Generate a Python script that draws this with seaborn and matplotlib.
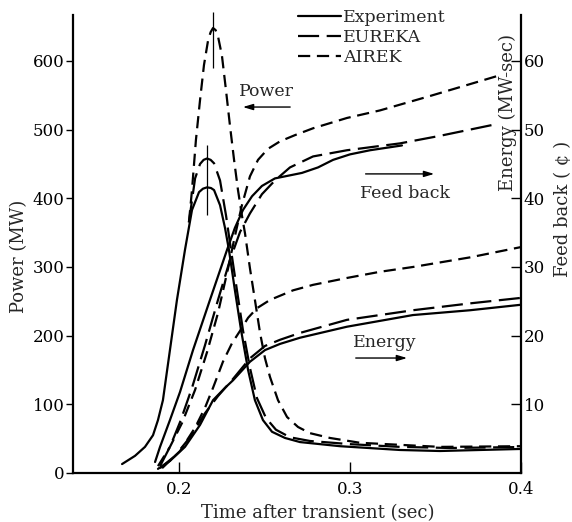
import numpy as np
import pandas as pd
import matplotlib
matplotlib.use("Agg")
import matplotlib.pyplot as plt
import seaborn as sns
from matplotlib.lines import Line2D

sns.set_theme(style="ticks")
plt.rcParams['font.family'] = ['DejaVu Serif']
plt.rcParams['axes.edgecolor'] = 'black'
plt.rcParams['xtick.color'] = 'black'
plt.rcParams['ytick.color'] = 'black'

# ---------------- data ----------------
models = ["Experiment", "EUREKA", "AIREK"]

# Power (MW), left axis
t_pow_exp = [0.1667, 0.1743, 0.1801, 0.1848, 0.1877, 0.1906, 0.1947, 0.1988, 0.2035, 0.2076,
             0.2117, 0.2140, 0.2164, 0.2187, 0.2205, 0.2240, 0.2269, 0.2292, 0.2327, 0.2363,
             0.2404, 0.2444, 0.2491, 0.2544, 0.2620, 0.2708, 0.2942, 0.3292, 0.3526, 0.3760,
             0.4000]
p_pow_exp = [13, 25, 38, 55, 77, 106, 179, 252, 325, 383,
             409, 414, 416, 415, 412, 390, 357, 325, 266, 208,
             150, 106, 77, 60, 51, 45, 39, 33.5, 32, 33.5,
             35]

t_pow_eur = [0.2058, 0.2094, 0.2123, 0.2144, 0.2164, 0.2185, 0.2205, 0.2240, 0.2275, 0.2304,
             0.2339, 0.2374, 0.2415, 0.2456, 0.2509, 0.2567, 0.2649, 0.2766, 0.3000, 0.3292,
             0.3585, 0.4000]
p_pow_eur = [365, 429, 450, 456, 458, 456, 451, 426, 375, 325,
             266, 208, 153, 109, 80, 63, 52, 46.6, 42, 38,
             36.4, 37.8]

t_pow_air = [0.2058, 0.2076, 0.2099, 0.2123, 0.2146, 0.2170, 0.2185, 0.2199, 0.2214, 0.2228,
             0.2251, 0.2275, 0.2298, 0.2322, 0.2345, 0.2368, 0.2386, 0.2415, 0.2444, 0.2474,
             0.2503, 0.2532, 0.2579, 0.2632, 0.2696, 0.2766, 0.2883, 0.3058, 0.3292, 0.3526,
             0.4000]
p_pow_air = [365, 412, 485, 543, 594, 630, 642, 648, 645, 636,
             608, 557, 506, 456, 412, 375, 349, 298, 252, 204,
             167, 140, 106, 81.5, 67, 58, 51, 44, 41, 38,
             39]

# Feed back (cent), right axis
t_fb_exp = [0.1860, 0.1889, 0.1947, 0.2006, 0.2082, 0.2181, 0.2281, 0.2327, 0.2374, 0.2427,
            0.2485, 0.2561, 0.2620, 0.2719, 0.2813, 0.2901, 0.3000, 0.3117, 0.3304]
v_fb_exp = [1.6, 3.8, 7.7, 11.8, 17.9, 25.2, 32.5, 35.7, 38.3, 40.3,
            41.8, 42.9, 43.2, 43.7, 44.5, 45.6, 46.4, 47.0, 47.7]

t_fb_eur = [0.1889, 0.1947, 0.2006, 0.2076, 0.2152, 0.2228, 0.2298, 0.2357, 0.2415, 0.2485,
            0.2561, 0.2649, 0.2784, 0.2982, 0.3292, 0.3526, 0.3836]
v_fb_eur = [1.0, 3.8, 7.4, 12.4, 18.6, 25.2, 31.0, 35.1, 37.8, 40.6,
            42.6, 44.5, 46.1, 47.0, 48.0, 49.1, 50.7]

t_fb_air = [0.1877, 0.1947, 0.2018, 0.2094, 0.2164, 0.2228, 0.2287, 0.2327, 0.2368, 0.2415,
            0.2462, 0.2520, 0.2591, 0.2678, 0.2784, 0.2982, 0.3175, 0.3468, 0.3860]
v_fb_air = [1.0, 3.8, 7.3, 12.1, 17.6, 23.3, 29.8, 34.5, 39.0, 43.2,
            45.6, 47.2, 48.3, 49.2, 50.2, 51.7, 52.8, 54.9, 57.8]

# Energy (MW-sec), right axis
t_en_exp = [0.1877, 0.1947, 0.2035, 0.2123, 0.2199, 0.2269, 0.2316, 0.2415, 0.2503, 0.2591,
            0.2708, 0.2982, 0.3368, 0.3702, 0.4000]
v_en_exp = [0.6, 1.75, 3.8, 7.0, 10.6, 12.4, 13.5, 16.2, 17.9, 18.8,
            19.7, 21.3, 23.0, 23.7, 24.5]

t_en_eur = [0.1889, 0.1977, 0.2064, 0.2152, 0.2228, 0.2316, 0.2415, 0.2503, 0.2591, 0.2708,
            0.2982, 0.3368, 0.3702, 0.4000]
v_en_eur = [0.7, 2.5, 5.2, 8.7, 11.2, 13.7, 16.7, 18.5, 19.4, 20.4,
            22.3, 23.7, 24.7, 25.5]

t_en_air = [0.1901, 0.2006, 0.2094, 0.2152, 0.2199, 0.2257, 0.2310, 0.2357, 0.2404, 0.2456,
            0.2532, 0.2667, 0.2784, 0.2982, 0.3175, 0.3368, 0.3702, 0.4000]
v_en_air = [0.7, 3.2, 6.6, 9.5, 12.4, 16.2, 18.9, 20.7, 22.6, 24.0,
            25.2, 26.6, 27.4, 28.4, 29.3, 30.0, 31.4, 32.9]

# peak-time markers (thin vertical bars), power units
peak_t = [0.2199, 0.2164]
peak_lo = [590, 375]
peak_hi = [671, 478]

x_ticks = [0.2, 0.3, 0.4]
power_ticks = [0, 100, 200, 300, 400, 500, 600]
energy_ticks = [10, 20, 30, 40, 50, 60]

# ---------------- styles ----------------
LW = 1.6
styles = {"Experiment": "-", "EUREKA": (0, (9.5, 3.4)), "AIREK": (0, (5.5, 3.0))}

fig = plt.figure(figsize=(5.72, 5.22), dpi=100)
ax = fig.add_axes([0.1276, 0.0939, 0.7832, 0.8774])
ax2 = ax.twinx()

def draw(a, t, v, model):
    df = pd.DataFrame({"t": t, "v": v})
    sns.lineplot(data=df, x="t", y="v", ax=a, color="black", linewidth=LW,
                 linestyle=styles[model], sort=False, estimator=None, legend=False)

draw(ax, t_pow_exp, p_pow_exp, "Experiment")
draw(ax, t_pow_eur, p_pow_eur, "EUREKA")
draw(ax, t_pow_air, p_pow_air, "AIREK")

draw(ax2, t_fb_exp, v_fb_exp, "Experiment")
draw(ax2, t_fb_eur, v_fb_eur, "EUREKA")
draw(ax2, t_fb_air, v_fb_air, "AIREK")
draw(ax2, t_en_exp, v_en_exp, "Experiment")
draw(ax2, t_en_eur, v_en_eur, "EUREKA")
draw(ax2, t_en_air, v_en_air, "AIREK")

ax.vlines(peak_t, peak_lo, peak_hi, colors="black", linewidth=0.9, clip_on=False)

# ---------------- axes ----------------
ax.set_xlim(0.138, 0.4)
ax.set_ylim(0, 667)
ax2.set_ylim(0, 66.7)

for a in (ax, ax2):
    a.spines["top"].set_visible(False)
    for s in ("left", "right", "bottom"):
        a.spines[s].set_linewidth(1.6)
ax.spines["right"].set_visible(False)
ax2.spines["left"].set_visible(False)
ax2.spines["bottom"].set_visible(False)

ax.set_xticks(x_ticks)
ax.set_xticklabels(["0.2", "0.3", "0.4"])
ax.set_yticks(power_ticks)
ax.set_yticklabels([str(v) for v in power_ticks])
ax2.set_yticks(energy_ticks)
ax2.set_yticklabels([str(v) for v in energy_ticks])

ax.tick_params(axis="x", direction="in", length=8, width=1.0, pad=6, labelsize=12)
ax.tick_params(axis="y", direction="out", length=5, width=1.0, pad=1, labelsize=12)
ax2.tick_params(axis="y", direction="in", length=7, width=1.0, pad=2, labelsize=12)

ax.set_xlabel("Time after transient (sec)", fontsize=13)
ax.xaxis.set_label_coords(0.547, -0.068)
ax.set_ylabel("Power (MW)", fontsize=13)
ax.yaxis.set_label_coords(-0.10, 0.474)
ax2.set_ylabel("")

ax.text(0.971, 0.788, "Energy (MW-sec)", rotation=90, ha="center", va="center",
        fontsize=13, transform=ax.transAxes)
fig.text(0.985, 0.576 * 0.8774 + 0.0939, "Feed back ( ¢ )", rotation=90,
         ha="center", va="center", fontsize=13)

# annotations with arrows
arrow_kw = dict(arrowstyle="-|>,head_length=0.5,head_width=0.15", color="black", lw=1.0)
ax.text(0.431, 0.832, "Power", ha="center", va="center", fontsize=12.5, transform=ax.transAxes)
ax.annotate("", xy=(0.373, 0.799), xytext=(0.491, 0.799), xycoords="axes fraction",
            arrowprops=arrow_kw)
ax.text(0.741, 0.611, "Feed back", ha="center", va="center", fontsize=12.5, transform=ax.transAxes)
ax.annotate("", xy=(0.8125, 0.653), xytext=(0.647, 0.653), xycoords="axes fraction",
            arrowprops=arrow_kw)
ax.text(0.696, 0.284, "Energy", ha="center", va="center", fontsize=12.5, transform=ax.transAxes)
ax.annotate("", xy=(0.752, 0.251), xytext=(0.625, 0.251), xycoords="axes fraction",
            arrowprops=arrow_kw)

# legend
handles = [Line2D([], [], color="black", linewidth=LW, linestyle=styles[m]) for m in models]
ax2.legend(handles, models, loc="upper left", bbox_to_anchor=(0.502, 1.012),
           frameon=False, fontsize=12.5, handlelength=2.5, handletextpad=0.1,
           labelspacing=0.15, borderpad=0, borderaxespad=0)

fig.savefig("out.png", dpi=100, facecolor="white")
